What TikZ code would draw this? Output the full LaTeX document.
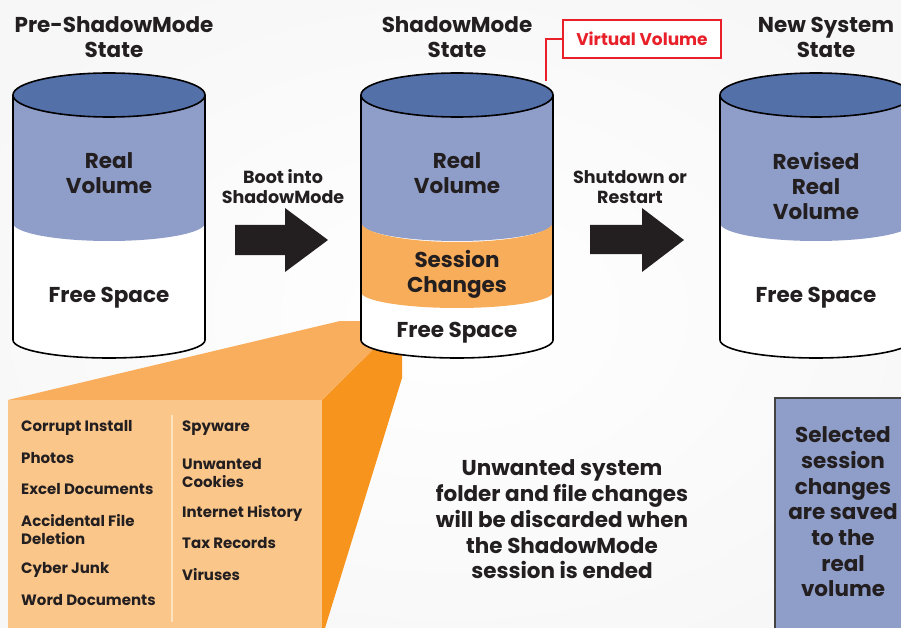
\documentclass[tikz,border=0pt]{standalone}
\usepackage{fontspec}
\setmainfont{Poppins}
\definecolor{ink}{HTML}{231F20}
\definecolor{topblue}{HTML}{5470A9}
\definecolor{bodyblue}{HTML}{8F9DC9}
\definecolor{sessorange}{HTML}{F8AD5B}
\definecolor{cotop}{HTML}{F9AE5E}
\definecolor{cofront}{HTML}{FBC68A}
\definecolor{coside}{HTML}{F7941E}
\definecolor{vred}{HTML}{E8202A}
\definecolor{divline}{HTML}{FDE2BF}
\tikzset{
  txt/.style={font=\bfseries\fontsize{21.5}{25}\selectfont, text=ink, align=center, inner sep=0pt},
  small/.style={font=\bfseries\fontsize{17.5}{20}\selectfont, text=ink, align=center, inner sep=0pt},
  item/.style={font=\bfseries\fontsize{15}{18}\selectfont, text=ink, align=left, anchor=west, inner sep=0pt},
  cylline/.style={draw=black, line width=1.6pt},
  blockarrow/.style={fill=ink},
}
\begin{document}
\begin{tikzpicture}[x=1pt,y=-1pt]
\useasboundingbox (0,0) rectangle (901,628);
\fill[gray!6] (0,0) rectangle (901,628);
\shade[inner color=white, outer color=gray!6] (450,314) ellipse [x radius=520pt, y radius=360pt];

% callout
\fill[coside] (322,400) -- (402,321) -- (402,378) -- (325,628) -- (322,628) -- cycle;
\fill[cotop] (8,400) -- (340,321) -- (402,321) -- (322,400) -- cycle;
\fill[cofront] (8,400) rectangle (322,628);
\draw[divline, line width=2.5pt] (172,415) -- (172,622);

% cylinders
\foreach \L/\cx/\R [count=\i] in {13/109/205, 361/457/553, 720/816/912} {
  \fill[white] (\L,95) -- (\L,340) arc[start angle=180, end angle=360, x radius=96pt, y radius=18pt] -- (\R,95) -- cycle;
  \fill[bodyblue] (\L,95) -- (\L,223) arc[start angle=180, end angle=360, x radius=96pt, y radius=18pt] -- (\R,95) -- cycle;
  \ifnum\i=2
    \fill[sessorange] (\L,222) arc[start angle=180, end angle=360, x radius=96pt, y radius=20pt] -- (\R,292) arc[start angle=0, end angle=-180, x radius=96pt, y radius=16pt] -- cycle;
  \fi
  \draw[cylline] (\L,95) -- (\L,340) arc[start angle=180, end angle=360, x radius=96pt, y radius=18pt] -- (\R,95);
  \draw[cylline, fill=topblue] (\cx,95) ellipse [x radius=96pt, y radius=22pt];
}

% headings
\node[txt] (h1) at (114,37) {Pre-ShadowMode\\State};
\node[txt] (h2) at (457,37) {ShadowMode\\State};
\node[txt] (h3) at (826,37) {New System\\State};

% cylinder labels
\node[txt] (rv1) at (109,173) {Real\\Volume};
\node[txt] (fs1) at (109,298) {Free Space};
\node[txt] (rv2) at (457,173) {Real\\Volume};
\node[txt] (sc2) at (457,274) {Session\\Changes};
\node[txt] (fs2) at (457,333) {Free Space};
\node[txt] (rv3) at (816,186) {Revised\\Real\\Volume};
\node[txt] (fs3) at (816,298) {Free Space};

% virtual volume
\node[draw=vred, line width=1.5pt, fill=white, minimum width=158pt, minimum height=38pt, inner sep=0pt,
      font=\bfseries\fontsize{17}{18}\selectfont, text=vred] (vv) at (642,39) {Virtual Volume};
\coordinate (vvend) at (546,81);
\draw[vred, line width=1.5pt] (vv.west) -| (vvend);

% arrows
\fill[blockarrow] (235,225) -- (285,225) -- (285,208) -- (328,240) -- (285,272) -- (285,255) -- (235,255) -- cycle;
\fill[blockarrow] (590,225) -- (642,225) -- (642,208) -- (684,240) -- (642,272) -- (642,254) -- (590,254) -- cycle;
\node[small] (boot) at (283,187) {Boot into\\ShadowMode};
\node[small] (shut) at (630,187) {Shutdown or\\Restart};

% list
\node[item] (i1) at (21,428) {Corrupt Install};
\node[item] (i2) at (21,458.5) {Photos};
\node[item] (i3) at (21,489.5) {Excel Documents};
\node[item] (i4) at (21,529.5) {Accidental File\\Deletion};
\node[item] (i5) at (21,569.5) {Cyber Junk};
\node[item] (i6) at (21,600.5) {Word Documents};
\node[item] (j1) at (182,428) {Spyware};
\node[item] (j2) at (182,473) {Unwanted\\Cookies};
\node[item] (j3) at (182,513) {Internet History};
\node[item] (j4) at (182,543.5) {Tax Records};
\node[item] (j5) at (182,574.5) {Viruses};

% middle text
\node[txt, font=\bfseries\fontsize{21.5}{25.7}\selectfont] (mid) at (562,519.5) {Unwanted system\\folder and file changes\\will be discarded when\\the ShadowMode\\session is ended};

% right box
\fill[bodyblue, draw=ink!85, line width=1.5pt] (775,398) rectangle (915,640);
\node[txt, font=\bfseries\fontsize{21.5}{25.7}\selectfont] (sel) at (843,512) {Selected\\session\\changes\\are saved\\to the\\real\\volume};
\end{tikzpicture}
\end{document}
